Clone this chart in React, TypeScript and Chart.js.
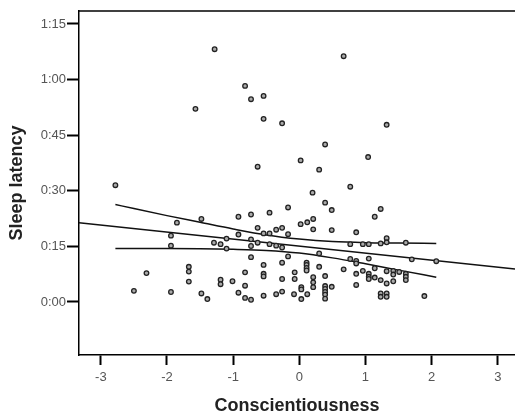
import React, { useEffect, useRef } from "react";
import { Chart, registerables } from "chart.js";

Chart.register(...registerables);

// Scatter points: Conscientiousness (z-score) vs sleep latency (minutes)
const pointsX = [
  -1.28, -0.82, -0.73, -0.54, -1.57, -0.54, -0.63, -2.78, 0.67, -0.26, 1.32, 0.39, 0.02, 1.04, 0.3, 0.77, 0.2,
  -1.85, -1.48, -1.94, -1.94, -1.29, -1.19, -1.1, -1.1,
  -1.67, -1.67, -1.67, -2.31, -2.5, -1.94, -1.48, -1.39,
  -1.19, -1.19, -1.01, -0.92, -0.82, -0.82, -0.82, -0.73,
  -0.92, -0.73, -0.92, -0.73, -0.73, -0.73,
  -0.45, -0.17, 0.02, -0.63, -0.54, -0.45, -0.35, -0.26, -0.17,
  -0.63, -0.45, -0.35, -0.26, -0.17, -0.54, -0.26,
  -0.54, -0.54, -0.07, -0.07, -0.26,
  -0.54, -0.35, -0.26, -0.08, 0.03,
  0.03, 0.03, 0.12,
  0.11, 0.11, 0.11, 0.11,
  0.21, 0.21, 0.21,
  0.12, 0.21, 0.21,
  0.3, 0.3, 0.39,
  0.39, 0.39, 0.39, 0.39, 0.39,
  0.49, 0.49, 0.49, 0.39,
  0.67, 0.77, 0.86, 0.86, 0.86, 0.86, 0.86,
  0.96, 1.05, 1.05, 1.05, 1.05,
  1.14, 1.14, 1.23, 1.32,
  1.23, 1.23, 1.32, 1.32,
  1.32, 1.42, 1.42, 1.42, 1.51,
  1.61, 1.61, 1.61, 1.89,
  1.23, 1.14,
  0.77, 0.96, 1.05, 1.23, 1.32, 1.32, 1.61,
  1.7, 2.07,
];
const pointsY = [
  68.2, 58.3, 54.7, 55.6, 52.1, 49.4, 36.5, 31.5, 66.3, 48.2, 47.8, 42.5, 38.2, 39.1, 35.7, 31.1, 29.5,
  21.4, 22.4, 17.9, 15.2, 16.0, 15.6, 17.1, 14.4,
  9.5, 8.2, 5.5, 7.8, 3.0, 2.7, 2.3, 0.8,
  6.0, 4.8, 5.6, 2.5, 8.0, 4.4, 1.1, 0.6,
  23.0, 23.6, 18.2, 16.9, 15.1, 12.1,
  24.1, 25.5, 21.0, 20.0, 18.5, 18.5, 19.5, 20.0, 18.3,
  16.0, 15.6, 15.2, 14.7, 12.3, 10.0, 10.6,
  7.6, 6.9, 8.0, 6.2, 6.2,
  1.7, 2.1, 2.8, 2.1, 0.8,
  4.0, 3.4, 2.1,
  10.6, 10.0, 9.2, 8.5,
  6.7, 5.3, 4.0,
  21.5, 22.4, 19.6,
  13.1, 9.5, 7.0,
  4.3, 3.5, 2.7, 2.0, 0.9,
  4.1, 19.4, 24.8, 26.8,
  8.8, 11.6, 18.8, 11.1, 10.4, 7.6, 4.6,
  8.4, 11.7, 7.6, 6.8, 6.2,
  9.1, 6.6, 5.9, 5.0,
  2.3, 1.4, 2.3, 1.4,
  8.3, 8.4, 7.4, 5.6, 8.1,
  7.6, 6.8, 5.9, 1.6,
  25.1, 23.0,
  15.6, 15.6, 15.6, 15.8, 17.2, 16.1, 16.0,
  11.5, 11.0,
];

// Total fit line
const fitX = [-3.33, 3.26];
const fitY = [21.4, 8.9];

// Mean 95% confidence band
const bandX = [-2.78, -2.5, -2, -1.5, -1, -0.5, 0, 0.5, 1, 1.5, 2.07];
const bandUpper = [26.3, 25.2, 23.3, 21.5, 19.7, 18.1, 17.0, 16.3, 16.0, 15.9, 15.8];
const bandLower = [14.4, 14.4, 14.4, 14.35, 14.2, 13.9, 13.2, 11.9, 10.3, 8.6, 6.7];

const xTicks = [-3, -2, -1, 0, 1, 2, 3];
const yTicks = [0, 15, 30, 45, 60, 75];

const X_MIN = -3.33;
const X_MAX = 3.26;
const Y_MIN = -14.3;
const Y_MAX = 78.5;

const FONT = 'Arial, "Liberation Sans", Helvetica, sans-serif';

const fmtTime = (v: number) => {
  const h = Math.floor(v / 60);
  const m = Math.round(v - h * 60);
  return `${h}:${String(m).padStart(2, "0")}`;
};

const topBorder = {
  id: "topBorder",
  afterDraw(chart: any) {
    const { ctx, chartArea } = chart;
    ctx.save();
    ctx.strokeStyle = "#000";
    ctx.lineWidth = 1.5;
    ctx.beginPath();
    ctx.moveTo(chartArea.left, chartArea.top);
    ctx.lineTo(chartArea.right, chartArea.top);
    ctx.stroke();
    ctx.restore();
  },
};

export default function App() {
  const ref = useRef<HTMLCanvasElement | null>(null);

  useEffect(() => {
    document.body.style.margin = "0";
    const canvas = ref.current;
    if (!canvas) return;

    const scatter = pointsX.map((x, i) => ({ x, y: pointsY[i] }));
    const fit = fitX.map((x, i) => ({ x, y: fitY[i] }));
    const upper = bandX.map((x, i) => ({ x, y: bandUpper[i] }));
    const lower = bandX.map((x, i) => ({ x, y: bandLower[i] }));

    const lineStyle = {
      type: "line" as const,
      showLine: true,
      borderColor: "#111",
      borderWidth: 1.5,
      pointRadius: 0,
      fill: false,
    };

    const chart = new Chart(canvas, {
      type: "scatter",
      data: {
        datasets: [
          {
            data: scatter,
            pointRadius: 2.3,
            pointBorderWidth: 1.3,
            borderColor: "#222",
            backgroundColor: "#aaa",
            pointBackgroundColor: "#aaa",
            pointBorderColor: "#222",
          } as any,
          { ...lineStyle, data: fit } as any,
          { ...lineStyle, data: upper, cubicInterpolationMode: "monotone" } as any,
          { ...lineStyle, data: lower, cubicInterpolationMode: "monotone" } as any,
        ],
      },
      options: {
        responsive: false,
        animation: false,
        devicePixelRatio: 1,
        layout: { autoPadding: false, padding: { top: 11, right: 0, left: 0, bottom: 0 } },
        plugins: {
          legend: { display: false },
          tooltip: { enabled: false },
        },
        scales: {
          x: {
            type: "linear",
            min: X_MIN,
            max: X_MAX,
            afterBuildTicks: (s: any) => {
              s.ticks = xTicks.map((v) => ({ value: v }));
            },
            afterFit: (s: any) => {
              s.height = 60;
              s.paddingLeft = 0;
              s.paddingRight = 0;
            },
            grid: {
              drawOnChartArea: false,
              drawTicks: true,
              tickLength: 10,
              tickWidth: 2,
              tickColor: "#000",
            },
            border: { display: true, color: "#000", width: 1.5 },
            ticks: {
              color: "#555",
              font: { size: 13, family: FONT },
              padding: 5,
              maxRotation: 0,
              autoSkip: false,
            },
            title: {
              display: true,
              text: "Conscientiousness",
              color: "#222",
              font: { size: 18, weight: "bold", family: FONT, lineHeight: 1 },
              padding: { top: 0, bottom: 0 },
            },
          },
          y: {
            type: "linear",
            min: Y_MIN,
            max: Y_MAX,
            afterBuildTicks: (s: any) => {
              s.ticks = yTicks.map((v) => ({ value: v }));
            },
            afterFit: (s: any) => {
              s.width = 79;
              s.paddingTop = 0;
              s.paddingBottom = 0;
            },
            grid: {
              drawOnChartArea: false,
              drawTicks: true,
              tickLength: 12,
              tickWidth: 2,
              tickColor: "#000",
            },
            border: { display: true, color: "#000", width: 1.5 },
            ticks: {
              color: "#555",
              font: { size: 13, family: FONT },
              padding: 1,
              autoSkip: false,
              callback: (v: any) => fmtTime(Number(v)),
            },
            title: {
              display: true,
              text: "Sleep latency",
              color: "#222",
              font: { size: 18, weight: "bold", family: FONT, lineHeight: 1 },
              padding: { top: 8, bottom: 0 },
            },
          },
        },
      },
      plugins: [topBorder],
    });

    return () => chart.destroy();
  }, []);

  return (
    <canvas
      ref={ref}
      width={515}
      height={415}
      style={{ display: "block", width: 515, height: 415 }}
    />
  );
}
